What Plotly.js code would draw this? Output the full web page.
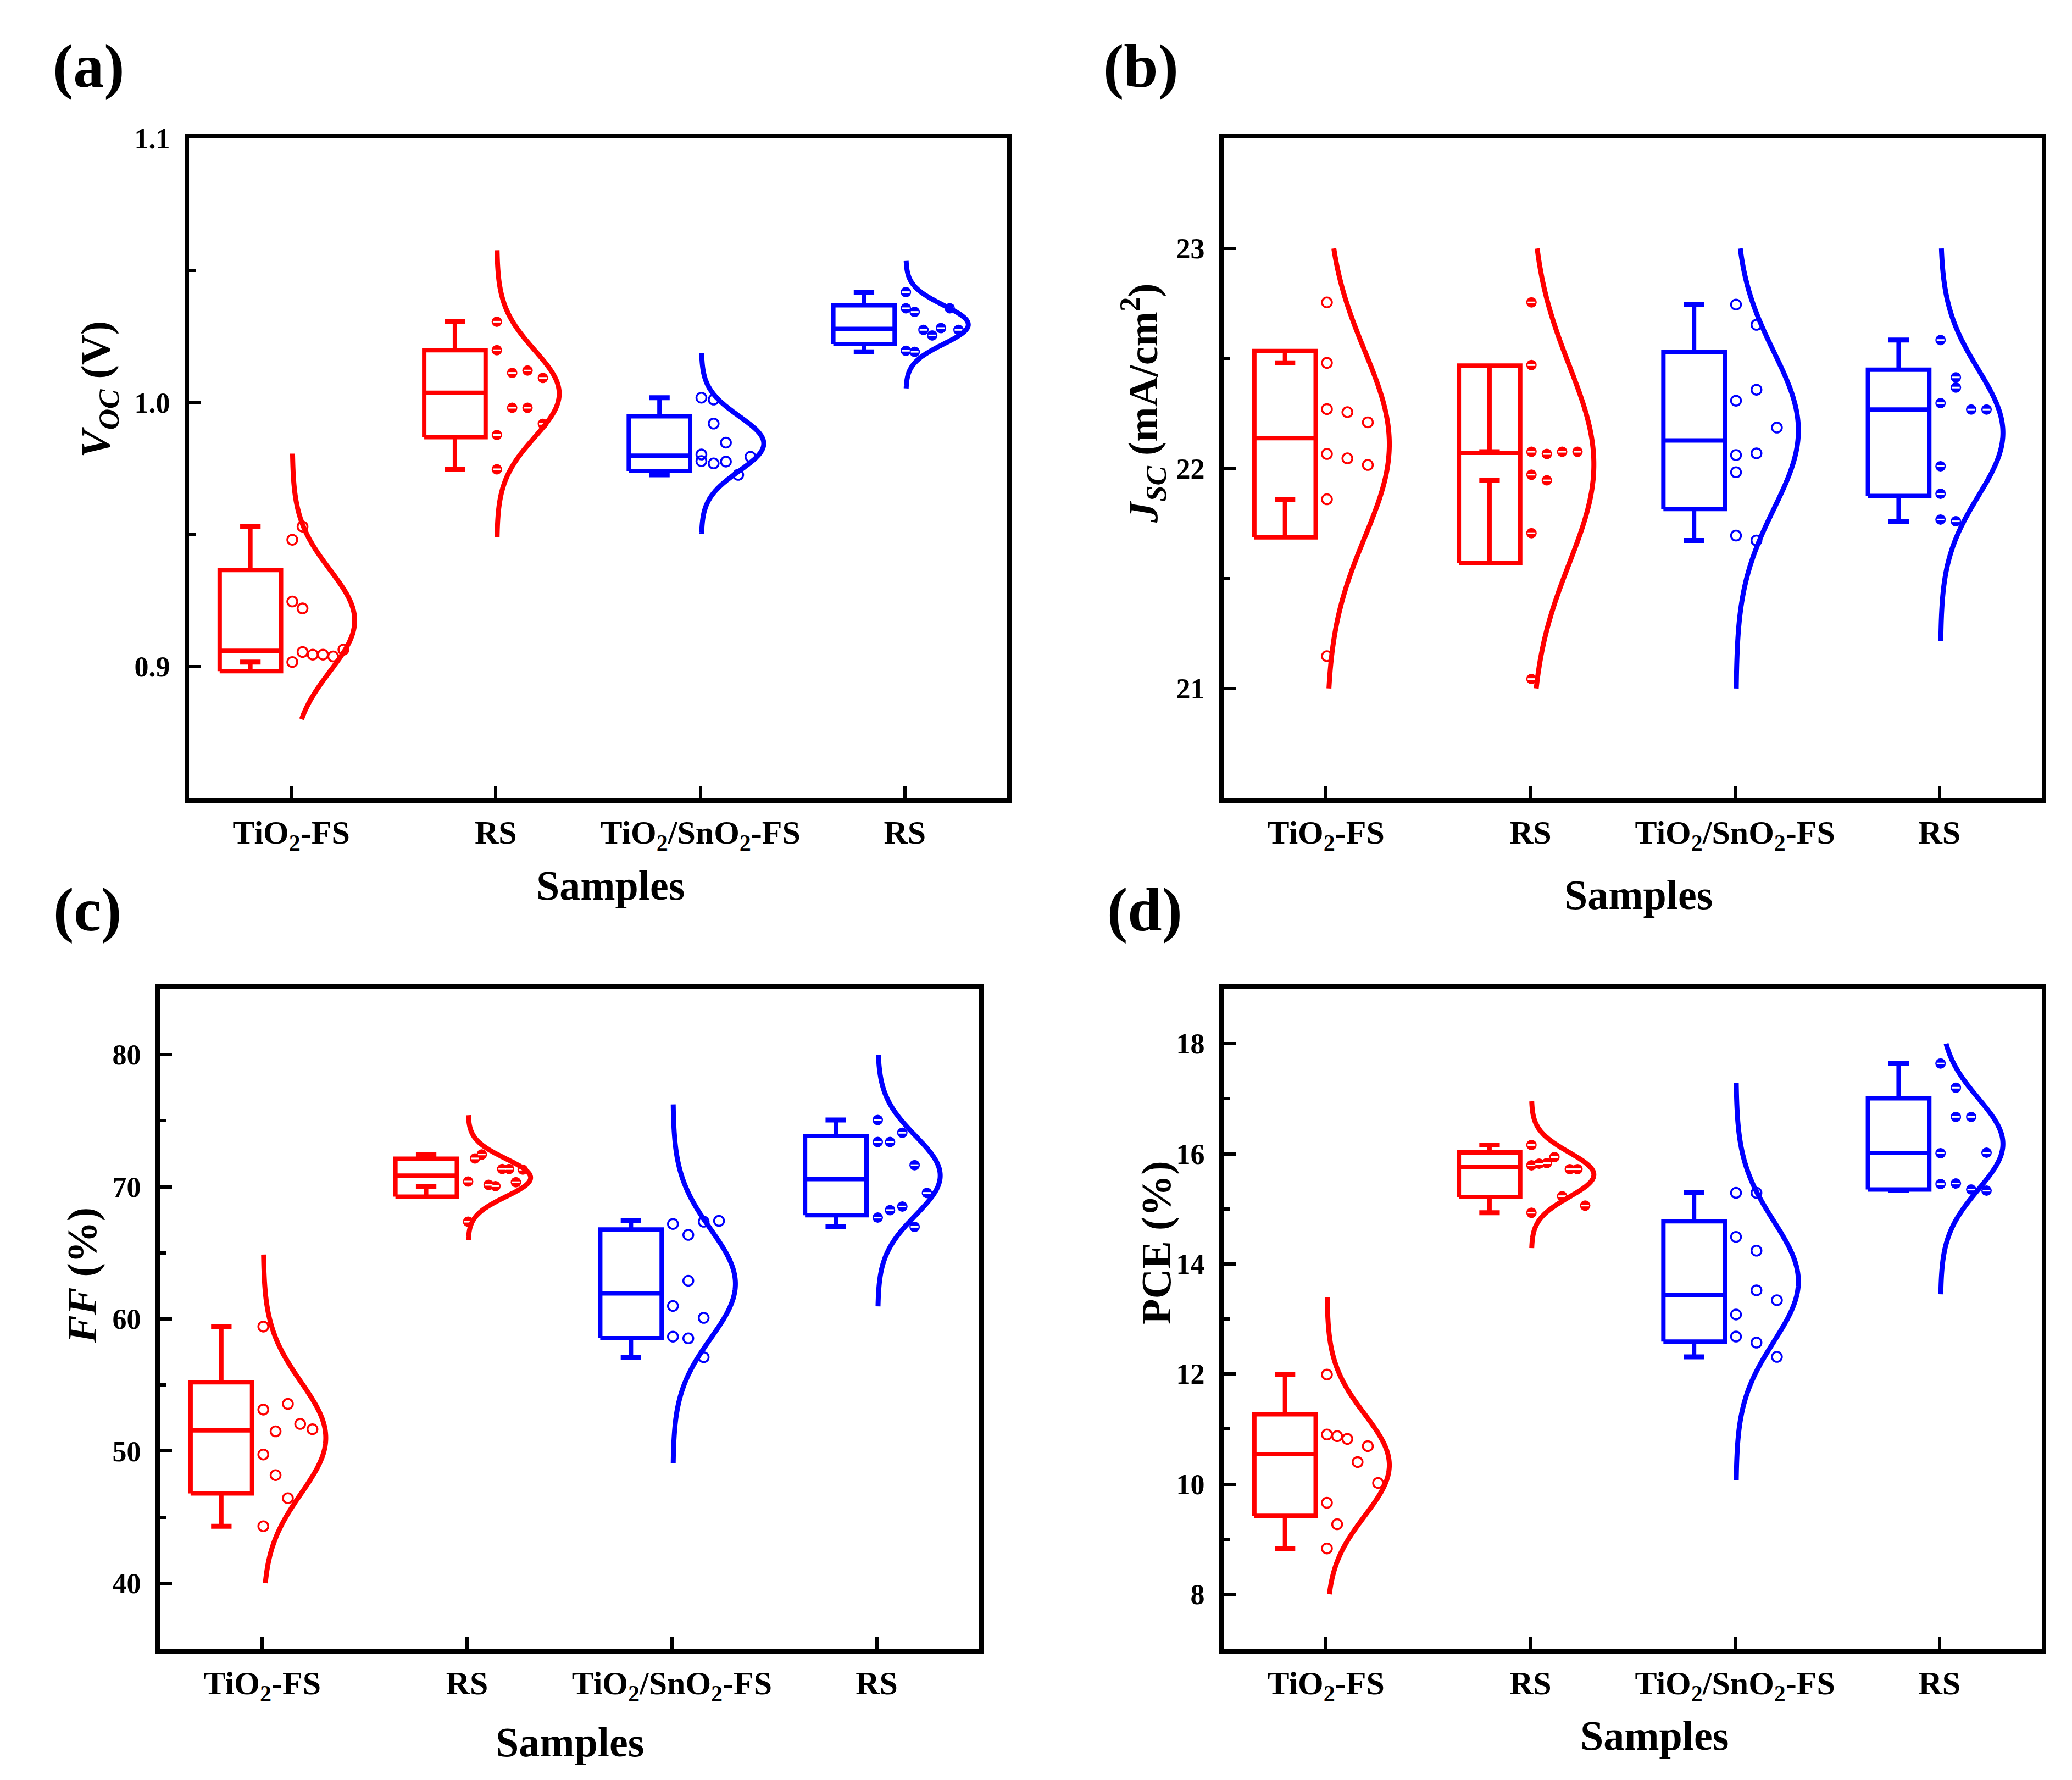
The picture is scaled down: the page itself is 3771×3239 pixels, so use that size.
<!DOCTYPE html>
<html>
<head>
<meta charset="utf-8">
<script src="https://cdn.plot.ly/plotly-3.0.1.min.js"></script>
<style>
html,body{margin:0;padding:0;background:#ffffff;}
#chart{width:3771px;height:3239px;}
</style>
</head>
<body>
<div id="chart"></div>
<script>
// ---------------- DATA ----------------
const sampleLabels = ['TiO<sub>2</sub>-FS', 'RS', 'TiO<sub>2</sub>/SnO<sub>2</sub>-FS', 'RS'];

// (a) V_OC (V)
const vocTiO2FS    = [0.948, 0.953, 0.9246, 0.922, 0.9017, 0.9055, 0.9045, 0.9045, 0.9038, 0.9064];
const vocTiO2RS    = [1.0306, 1.0198, 1.0112, 1.0121, 1.0093, 0.9877, 0.9980, 0.9980, 0.9919, 0.9747];
const vocTiO2SnO2FS = [1.0018, 1.0011, 0.9803, 0.9920, 0.9848, 0.9778, 0.9769, 0.9776, 0.9726, 0.9794];
const vocTiO2SnO2RS = [1.0418, 1.0357, 1.0343, 1.0275, 1.0254, 1.0282, 1.0357, 1.0275, 1.0196, 1.0192];

// (b) J_SC (mA/cm2)
const jscTiO2FS    = [22.755, 22.48, 22.27, 22.256, 22.21, 22.066, 22.046, 22.016, 21.86, 21.147];
const jscTiO2RS    = [22.755, 22.47, 22.076, 22.066, 22.076, 22.076, 21.972, 21.946, 21.706, 21.043];
const jscTiO2SnO2FS = [22.745, 22.653, 22.308, 22.358, 22.061, 22.069, 22.186, 21.983, 21.695, 21.673];
const jscTiO2SnO2RS = [22.584, 22.414, 22.297, 22.368, 22.268, 22.268, 22.01, 21.885, 21.768, 21.76];

// (c) FF (%)
const ffTiO2FS     = [59.42, 53.14, 51.49, 53.57, 52.05, 51.65, 49.74, 48.18, 46.43, 44.31];
const ffTiO2RS     = [70.40, 72.15, 72.45, 70.15, 70.05, 71.35, 71.35, 70.35, 71.30, 67.36];
const ffTiO2SnO2FS  = [67.19, 66.36, 67.36, 67.42, 60.98, 62.89, 60.08, 58.66, 58.53, 57.10];
const ffTiO2SnO2RS  = [75.06, 73.39, 73.39, 74.09, 71.64, 67.67, 68.24, 68.51, 66.97, 69.54];

// (d) PCE (%)
const pceTiO2FS    = [11.99, 10.90, 10.87, 10.82, 10.40, 10.69, 10.02, 9.66, 9.27, 8.83];
const pceTiO2RS    = [16.16, 15.79, 15.82, 15.83, 15.94, 15.23, 15.72, 15.72, 15.06, 14.93];
const pceTiO2SnO2FS = [15.29, 15.29, 14.49, 14.24, 13.08, 13.52, 13.34, 12.68, 12.57, 12.31];
const pceTiO2SnO2RS = [17.64, 17.20, 16.01, 16.67, 16.67, 16.02, 15.45, 15.46, 15.35, 15.33];

// distribution-curve clipping range of each panel
const curveClipA = [0.88, 1.10];
const curveClipB = [21, 23];
const curveClipC = [40, 80];
const curveClipD = [8, 18];

// ---------------- STYLE / LAYOUT ----------------
const W = 3771, H = 3239;
const FONT = "'Liberation Serif', 'Times New Roman', Times, serif";
const RED = '#FF0000', BLUE = '#0000FF';
const groupColor = [RED, RED, BLUE, BLUE];
const groupFilled = [false, true, false, true];

const panels = [
  {groups:[vocTiO2FS, vocTiO2RS, vocTiO2SnO2FS, vocTiO2SnO2RS], clip:curveClipA,
   yrange:[0.85,1.1], dtick:0.1, tick0:0, minor:0.05, fmt:'.1f', bin:0.02,
   px:[344,1833], py:[252,1453]},
  {groups:[jscTiO2FS, jscTiO2RS, jscTiO2SnO2FS, jscTiO2SnO2RS], clip:curveClipB,
   yrange:[20.5,23.5], dtick:1, tick0:0, minor:0.5, fmt:'d', bin:0.2,
   px:[2227,3716], py:[252,1453]},
  {groups:[ffTiO2FS, ffTiO2RS, ffTiO2SnO2FS, ffTiO2SnO2RS], clip:curveClipC,
   yrange:[35,85], dtick:10, tick0:0, minor:5, fmt:'d', bin:5,
   px:[291,1782], py:[1799,3001]},
  {groups:[pceTiO2FS, pceTiO2RS, pceTiO2SnO2FS, pceTiO2SnO2RS], clip:curveClipD,
   yrange:[7,19], dtick:2, tick0:0, minor:1, fmt:'d', bin:1,
   px:[2227,3716], py:[1799,3001]}
];

const BOX_OFF = -0.20, BOX_W = 0.30, CAP_W = 0.10;
const PT_OFF = 0.005, PT_SPREAD = 0.30;
const CURVE_OFF = 0.005, CURVE_AMP = 0.305, CURVE_K = 3.3;

function stats(v){
  const s = [...v].sort((a,b)=>a-b), n = s.length;
  const mean = s.reduce((a,b)=>a+b,0)/n;
  const sd = Math.sqrt(s.reduce((a,b)=>a+(b-mean)*(b-mean),0)/(n-1));
  const mid = a => a.length%2 ? a[(a.length-1)/2] : (a[a.length/2-1]+a[a.length/2])/2;
  const med = mid(s);
  const half = Math.floor(n/2);
  const q1 = mid(s.slice(0,half)), q3 = mid(s.slice(n-half));
  const iqr = q3 - q1;
  const lw = Math.min(...s.filter(x => x >= q1 - 1.5*iqr));
  const uw = Math.max(...s.filter(x => x <= q3 + 1.5*iqr));
  return {mean, sd, med, lw, uw};
}

const traces = [];
const layout = {
  width: W, height: H, margin:{l:0,r:0,t:0,b:0},
  paper_bgcolor:'#ffffff', plot_bgcolor:'#ffffff',
  showlegend:false, hovermode:false,
  font:{family:FONT, color:'#000000'},
  annotations:[]
};

panels.forEach((p, pi) => {
  const sfx = pi === 0 ? '' : String(pi+1);
  const xa = 'x'+sfx, ya = 'y'+sfx;
  p.groups.forEach((vals, gi) => {
    const c = gi + 1, col = groupColor[gi];
    const st = stats(vals);
    const lo = st.mean - st.sd, hi = st.mean + st.sd;
    const bc = c + BOX_OFF, bl = bc - BOX_W/2, br = bc + BOX_W/2;
    const lineBase = {xaxis:xa, yaxis:ya, mode:'lines', hoverinfo:'skip', showlegend:false};
    // whiskers (from box edge to whisker value)
    traces.push(Object.assign({}, lineBase, {
      x:[bc, bc, null, bc, bc], y:[hi, st.uw, null, lo, st.lw],
      line:{color:col, width:8}}));
    traces.push(Object.assign({}, lineBase, {
      x:[bc-CAP_W/2, bc+CAP_W/2, null, bc-CAP_W/2, bc+CAP_W/2],
      y:[st.uw, st.uw, null, st.lw, st.lw],
      line:{color:col, width:9}}));
    // box: mean +/- SD
    traces.push(Object.assign({}, lineBase, {
      x:[bl, br, br, bl, bl], y:[lo, lo, hi, hi, lo],
      line:{color:col, width:8}}));
    // median line
    traces.push(Object.assign({}, lineBase, {
      x:[bl, br], y:[st.med, st.med], line:{color:col, width:8}}));

    // data points, binned and stacked to the right of the category position
    const counts = {}, slots = [];
    vals.forEach(v => {
      const b = Math.floor(v / p.bin + 1e-9);
      counts[b] = (counts[b] || 0);
      slots.push(counts[b]);
      counts[b] += 1;
    });
    const maxCount = Math.max(...Object.values(counts));
    const step = PT_SPREAD / maxCount;
    const px = slots.map(s => c + PT_OFF + s*step);
    if (groupFilled[gi]) {
      traces.push({xaxis:xa, yaxis:ya, type:'scatter', mode:'markers', x:px, y:vals,
        hoverinfo:'skip', marker:{symbol:'circle', size:19, color:col, line:{width:0}}});
      traces.push({xaxis:xa, yaxis:ya, type:'scatter', mode:'markers', x:px, y:vals,
        hoverinfo:'skip', marker:{symbol:'line-ew', size:10, color:'#ffffff', line:{color:'#ffffff', width:3}}});
    } else {
      traces.push({xaxis:xa, yaxis:ya, type:'scatter', mode:'markers', x:px, y:vals,
        hoverinfo:'skip', marker:{symbol:'circle-open', size:18, color:col, line:{color:col, width:3.5}}});
    }

    // normal distribution curve from the group mean and SD
    const y0 = Math.max(st.mean - CURVE_K*st.sd, p.clip[0]);
    const y1 = Math.min(st.mean + CURVE_K*st.sd, p.clip[1]);
    const cy = [], cx = [];
    const N = 240;
    for (let i = 0; i <= N; i++) {
      const y = y0 + (y1 - y0) * i / N;
      const z = (y - st.mean) / st.sd;
      cy.push(y);
      cx.push(c + CURVE_OFF + CURVE_AMP * Math.exp(-0.5*z*z));
    }
    traces.push(Object.assign({}, lineBase, {x:cx, y:cy, line:{color:col, width:9, shape:'spline', smoothing:0.3}}));
  });

  layout['xaxis'+sfx] = {
    domain:[p.px[0]/W, p.px[1]/W], anchor:ya, range:[0.5,4.5],
    tickmode:'array', tickvals:[1,2,3,4], ticktext:sampleLabels,
    ticks:'inside', ticklen:22, tickwidth:6, tickcolor:'#000',
    showline:true, linewidth:8, linecolor:'#000', mirror:true,
    showgrid:false, zeroline:false, fixedrange:true,
    tickfont:{family:FONT, size:60, color:'#000', weight:'bold'},
    ticklabelstandoff:2
  };
  layout['yaxis'+sfx] = {
    domain:[1 - p.py[1]/H, 1 - p.py[0]/H], anchor:xa, range:p.yrange,
    tick0:p.tick0, dtick:p.dtick, tickformat:p.fmt,
    ticks:'inside', ticklen:22, tickwidth:6, tickcolor:'#000',
    minor:{ticks:'inside', ticklen:12, tickwidth:6, tickcolor:'#000', dtick:p.minor, tick0:p.tick0, showgrid:false},
    showline:true, linewidth:8, linecolor:'#000', mirror:true,
    showgrid:false, zeroline:false, fixedrange:true,
    tickfont:{family:FONT, size:52, color:'#000', weight:'bold'},
    ticklabelstandoff:16
  };
});

function ann(text, x, y, size, angle){
  layout.annotations.push({text:text, x:x/W, y:1-y/H, xref:'paper', yref:'paper',
    showarrow:false, xanchor:'center', yanchor:'middle', textangle:angle||0,
    font:{family:FONT, size:size, color:'#000', weight:'bold'}});
}
// panel letters
ann('(a)', 161, 120, 112); ann('(b)', 2076, 120, 112);
ann('(c)', 159, 1655, 112); ann('(d)', 2083, 1655, 112);
// x titles
ann('Samples', 1111, 1611, 76); ann('Samples', 2982, 1628, 76);
ann('Samples', 1037, 3170, 76); ann('Samples', 3011, 3158, 76);
// y titles
ann('<i>V</i><sub><i>OC</i></sub> (V)', 180, 709, 76, -90);
ann('<i>J</i><sub><i>SC</i></sub> (mA/cm<sup>2</sup>)', 2080, 734, 76, -90);
ann('<i>FF</i> (%)', 149, 2321, 76, -90);
ann('PCE (%)', 2104, 2261, 76, -90);

Plotly.newPlot('chart', traces, layout, {staticPlot:true, displayModeBar:false});
</script>
</body>
</html>
